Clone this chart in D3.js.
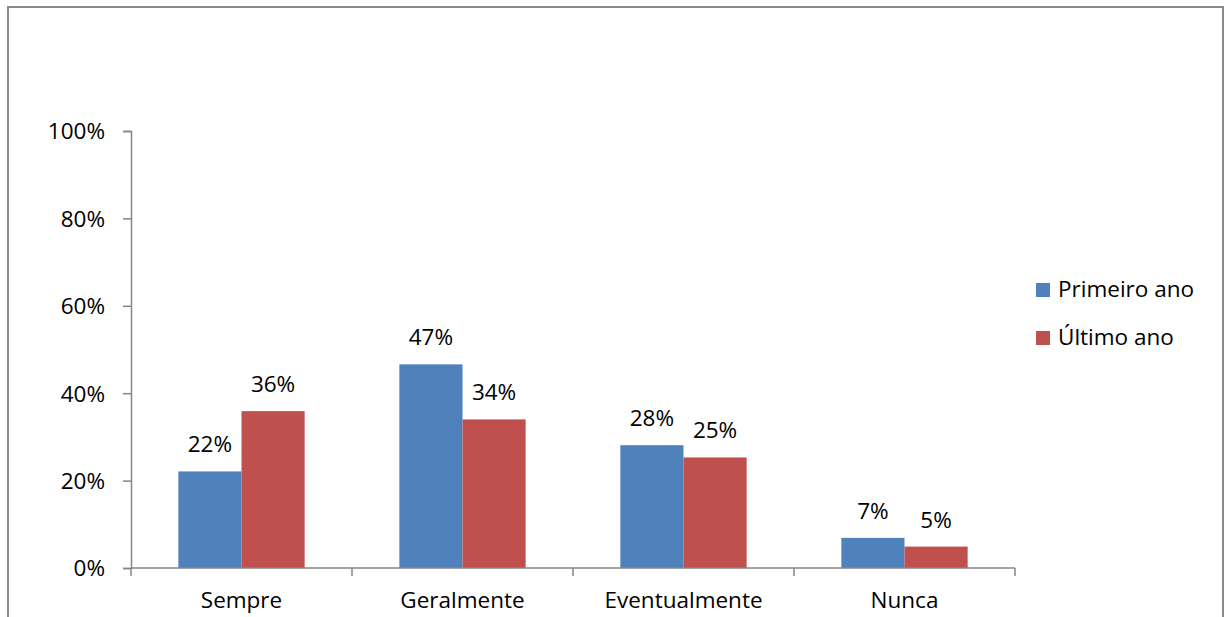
<!DOCTYPE html>
<html><head><meta charset="utf-8">
<script src="https://cdn.jsdelivr.net/npm/d3@7"></script>
<style>body{margin:0;background:#fff;} text{font-family:"Open Sans",sans-serif;fill:#000;}</style>
</head><body>
<svg id="c" width="1226" height="617"></svg>
<script>
const categories = ["Sempre", "Geralmente", "Eventualmente", "Nunca"];
const seriesNames = ["Primeiro ano", "Último ano"];
const primeiroAno = [22.1, 46.6, 28.1, 6.9];
const ultimoAno = [35.9, 34.0, 25.3, 4.9];
const yTicks = [0, 20, 40, 60, 80, 100];
const colors = ["#4F81BD", "#C0504D"];

(function () {
const svg = d3.select("#c");
// outer frame
svg.append("rect").attr("x", 8).attr("y", 7).attr("width", 1215).attr("height", 640)
  .attr("fill", "none").attr("stroke", "#8a8a8a").attr("stroke-width", 2);

const pLeft = 131, pRight = 1015, pTop = 131, pBottom = 568;
const x = d3.scaleBand().domain(categories).range([pLeft, pRight]).paddingInner(0).paddingOuter(0);
const y = d3.scaleLinear().domain([0, 100]).range([pBottom, pTop]);
const bw = x.bandwidth() / 3.5;
const xs = d3.scaleBand().domain([0, 1]).range([0, bw * 2]);

const data = [primeiroAno, ultimoAno];
const fs = 22.5;

// bars
data.forEach((vals, si) => {
  const g = svg.append("g");
  g.selectAll("rect").data(vals).enter().append("rect")
    .attr("x", (d, i) => x(categories[i]) + x.bandwidth() / 2 - bw + xs(si))
    .attr("y", d => y(d))
    .attr("width", xs.bandwidth())
    .attr("height", d => pBottom - y(d))
    .attr("fill", colors[si]);
  g.selectAll("text").data(vals).enter().append("text")
    .attr("x", (d, i) => x(categories[i]) + x.bandwidth() / 2 - bw + xs(si) + xs.bandwidth() / 2)
    .attr("y", d => y(d) - 19)
    .attr("text-anchor", "middle").attr("font-size", fs)
    .text(d => Math.round(d) + "%");
});

// y axis
const yAxis = d3.axisLeft(y).tickValues(yTicks).tickSize(8).tickPadding(18).tickFormat(d => d + "%");
const ya = svg.append("g").attr("transform", `translate(${pLeft},0)`).call(yAxis);
ya.selectAll("path,line").attr("stroke", "#868686").attr("stroke-width", 1.5);
ya.selectAll("text").attr("font-size", fs).attr("dy", "0.35em").style("font-family", "'Open Sans',sans-serif").attr("fill", "#000");

// x axis
const xa = svg.append("g").attr("transform", `translate(0,${pBottom})`);
xa.append("line").attr("x1", pLeft).attr("x2", pRight).attr("y1", 0).attr("y2", 0)
  .attr("stroke", "#868686").attr("stroke-width", 1.5);
const bounds = categories.map(c => x(c)).concat([pRight]);
xa.selectAll("line.t").data(bounds).enter().append("line").attr("class", "t")
  .attr("x1", d => d).attr("x2", d => d).attr("y1", 0).attr("y2", 8)
  .attr("stroke", "#868686").attr("stroke-width", 1.5);
xa.selectAll("text").data(categories).enter().append("text")
  .attr("x", d => x(d) + x.bandwidth() / 2).attr("y", 40)
  .attr("text-anchor", "middle").attr("font-size", fs).text(d => d);

// legend
const lg = svg.append("g");
seriesNames.forEach((n, i) => {
  lg.append("rect").attr("x", 1036).attr("y", 283 + i * 48).attr("width", 14).attr("height", 14).attr("fill", colors[i]);
  lg.append("text").attr("x", 1058).attr("y", 297 + i * 48).attr("font-size", fs).text(n);
});
})();
</script>
</body></html>
